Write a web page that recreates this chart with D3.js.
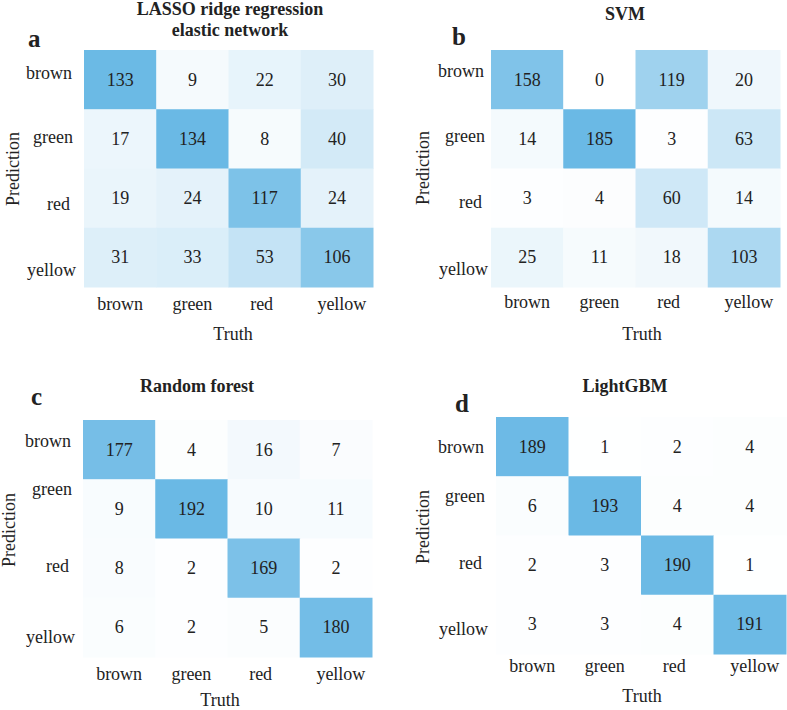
<!DOCTYPE html>
<html>
<head>
<meta charset="utf-8">
<script src="https://cdn.jsdelivr.net/npm/d3@7"></script>
<style>
  body { margin: 0; background: #fff; }
  text { font-family: "Liberation Serif", "Times New Roman", serif; fill: #222; }
</style>
</head>
<body>
<script>
var w = 787;
var h = 710;

// ---- data ----
var categories = ["brown", "green", "red", "yellow"];
var titles = [["LASSO ridge regression", "elastic network"], ["SVM"], ["Random forest"], ["LightGBM"]];
var letters = ["a", "b", "c", "d"];
// rows = Prediction, columns = Truth
var lassoValues = [[133, 9, 22, 30], [17, 134, 8, 40], [19, 24, 117, 24], [31, 33, 53, 106]];
var svmValues = [[158, 0, 119, 20], [14, 185, 3, 63], [3, 4, 60, 14], [25, 11, 18, 103]];
var forestValues = [[177, 4, 16, 7], [9, 192, 10, 11], [8, 2, 169, 2], [6, 2, 5, 180]];
var lgbmValues = [[189, 1, 2, 4], [6, 193, 4, 4], [2, 3, 190, 1], [3, 3, 4, 191]];
var matrices = [lassoValues, svmValues, forestValues, lgbmValues];

// ---- layout ----
var panels = [
  {x: 84, y: 50, w: 289, h: 237, titleX: 230, titleY: 15, letterX: 28, letterY: 47,
   yLab: [29, 93, 160, 226], xLabY: 23, truthX: 233, truthY: 340, predX: 13, predY: 169},
  {x: 491, y: 50, w: 289, h: 237, titleX: 625, titleY: 20, letterX: 452, letterY: 45,
   yLab: [27, 92, 158, 225], xLabY: 21, truthX: 642, truthY: 340, predX: 423, predY: 168},
  {x: 83, y: 420, w: 289, h: 237, titleX: 197, titleY: 392, letterX: 31, letterY: 405,
   yLab: [27, 75, 152, 223], xLabY: 23, truthX: 220, truthY: 706, predX: 9, predY: 530},
  {x: 496, y: 417, w: 290, h: 237, titleX: 625, titleY: 392, letterX: 455, letterY: 412,
   yLab: [36, 85, 152, 218], xLabY: 18, truthX: 642, truthY: 702, predX: 423, predY: 527}
];
var yLabRight = [-12, -7, -12, -12];
var xLabShift = [0, 0, -3, 5];
var yLabShift = [0, 1, -2, 4];
var fontSize = 18;

var svg = d3.select("body").append("svg")
    .attr("width", w)
    .attr("height", h);

panels.forEach(function (p, i) {
    var values = matrices[i];
    var cells = [];
    values.forEach(function (row, r) {
        row.forEach(function (v, c) {
            cells.push({pred: categories[r], truth: categories[c], value: v});
        });
    });
    var maxV = d3.max(cells, function (d) { return d.value; });

    var x = d3.scaleBand().domain(categories).range([p.x, p.x + p.w]);
    var y = d3.scaleBand().domain(categories).range([p.y, p.y + p.h]);
    var color = d3.scaleLinear().domain([0, maxV])
        .range(["#ffffff", "rgb(106,185,229)"]);

    var g = svg.append("g");

    //---cells-----
    g.selectAll("rect")
        .data(cells)
        .enter().append("rect")
        .attr("x", function (d) { return x(d.truth); })
        .attr("y", function (d) { return y(d.pred); })
        .attr("width", x.bandwidth() + 0.5)
        .attr("height", y.bandwidth() + 0.5)
        .attr("fill", function (d) { return color(d.value); });

    g.selectAll("text.num")
        .data(cells)
        .enter().append("text")
        .attr("class", "num")
        .text(function (d) { return d.value; })
        .attr("x", function (d) { return x(d.truth) + x.bandwidth() / 2; })
        .attr("y", function (d) { return y(d.pred) + y.bandwidth() / 2 + 6; })
        .attr("text-anchor", "middle")
        .attr("font-size", fontSize);

    //---axes-----
    var xAxis = g.append("g")
        .attr("transform", "translate(0," + (p.y + p.h) + ")")
        .call(d3.axisBottom(x).tickSize(0).tickPadding(0));
    xAxis.select(".domain").remove();
    xAxis.selectAll("text")
        .attr("dy", null)
        .attr("y", p.xLabY)
        .attr("x", function (d, k) { return xLabShift[k]; })
        .attr("font-size", fontSize)
        .attr("font-family", null)
        .attr("fill", "#222");

    var yAxis = g.append("g")
        .attr("transform", "translate(" + (p.x + yLabRight[i]) + ",0)")
        .call(d3.axisLeft(y).tickSize(0).tickPadding(0));
    yAxis.select(".domain").remove();
    yAxis.selectAll(".tick").attr("transform", null);
    yAxis.selectAll("text")
        .attr("dy", null)
        .attr("x", function (d, k) { return yLabShift[k]; })
        .attr("y", function (d, k) { return p.y + p.yLab[k]; })
        .attr("font-size", fontSize)
        .attr("font-family", null)
        .attr("fill", "#222");

    //---titles-----
    titles[i].forEach(function (t, k) {
        g.append("text")
            .text(t)
            .attr("x", p.titleX)
            .attr("y", p.titleY + k * 21)
            .attr("text-anchor", "middle")
            .attr("font-size", 18)
            .attr("font-weight", "bold");
    });

    g.append("text")
        .text(letters[i])
        .attr("x", p.letterX)
        .attr("y", p.letterY)
        .attr("font-size", 25)
        .attr("font-weight", "bold");

    g.append("text")
        .text("Truth")
        .attr("x", p.truthX)
        .attr("y", p.truthY)
        .attr("text-anchor", "middle")
        .attr("font-size", fontSize);

    g.append("text")
        .text("Prediction")
        .attr("transform", "translate(" + (p.predX + 6) + "," + p.predY + ") rotate(-90)")
        .attr("text-anchor", "middle")
        .attr("font-size", fontSize);
});
</script>
</body>
</html>
